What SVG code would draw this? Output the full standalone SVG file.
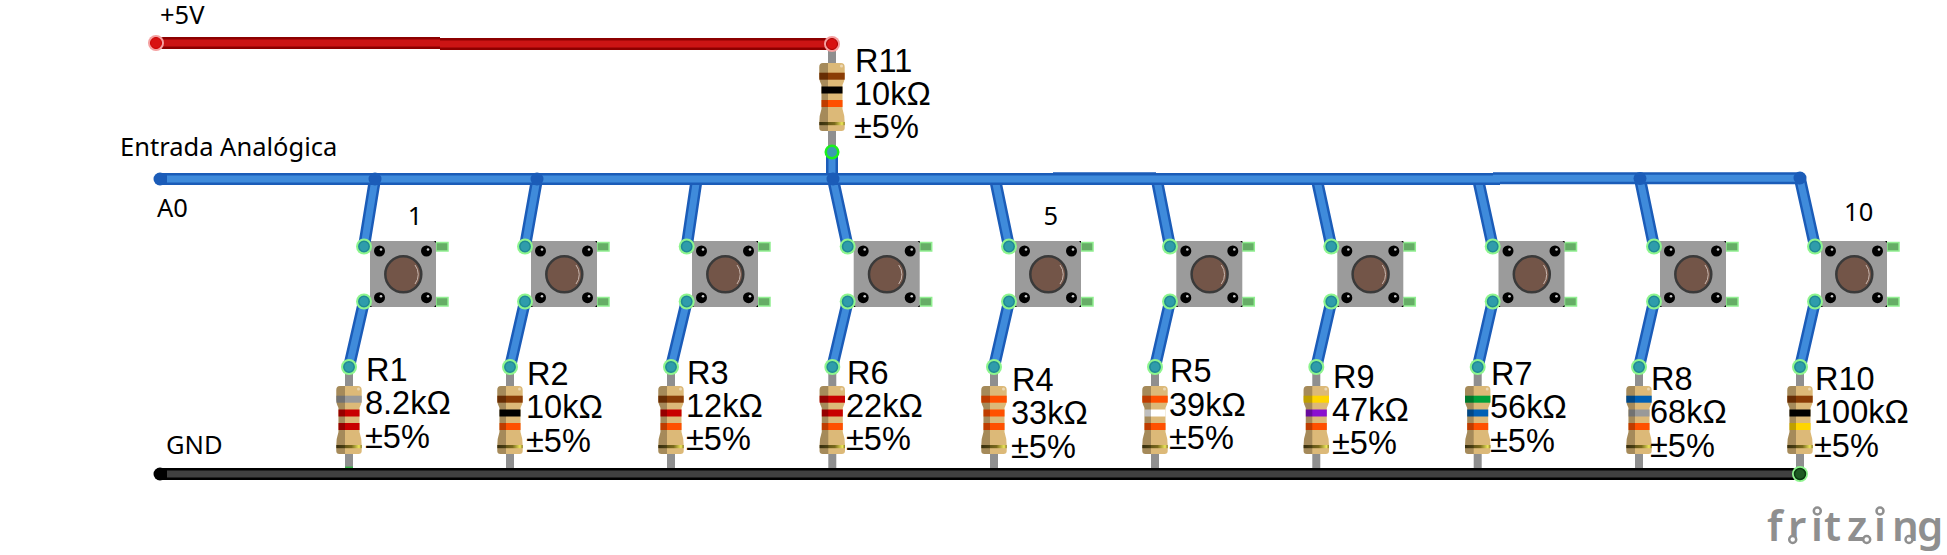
<svg xmlns="http://www.w3.org/2000/svg" width="1947" height="555" viewBox="0 0 1947 555">
<style>
.lead{stroke:#8f8f8f;stroke-width:8;fill:none}
.bo{stroke:#1b5cb8;stroke-width:12;fill:none}
.bi{stroke:#3f8bdb;stroke-width:7;fill:none}
.ro{stroke:#8c0000;stroke-width:12;fill:none}
.ri{stroke:#cb1414;stroke-width:7;fill:none}
.ko{stroke:#000;stroke-width:12;fill:none}
.ki{stroke:#404040;stroke-width:7;fill:none}
.lab{font-family:"Liberation Sans",Arial,sans-serif;font-size:32.5px;fill:#000}
.note{font-family:"Noto Sans","Open Sans",sans-serif;font-size:25.5px;fill:#000}
.gray{fill:#999}.red{fill:#c80000}.brown{fill:#8a3d06}.black{fill:#000}.orange{fill:#ff5000}.white{fill:#fff}
.yellow{fill:#ffd500}.purple{fill:#8a10d0}.green{fill:#00a13b}.blue{fill:#0060b5}
.jun{fill:#1b5cb8}
.halo{fill:#8ef58e}
.tip{fill:#2f9cab;stroke:#1f8a94;stroke-width:1.5}
.lg{fill:#fff;stroke:#8f8f8f;stroke-width:2.5}
</style>
<defs>
<linearGradient id="gold"><stop offset="0" stop-color="#4a3e14"/><stop offset=".6" stop-color="#7a6a1c"/><stop offset=".9" stop-color="#ece65a"/><stop offset="1" stop-color="#8a7a20"/></linearGradient>
<path id="rbody" fill="#dcb978" d="M-9,0H9Q12.7,0 12.7,4V14Q12.7,18 10.5,22V46Q12.7,52 12.7,60V65Q12.7,68 9.5,68H-9.5Q-12.7,68 -12.7,65V60Q-12.7,52 -10.5,46V22Q-12.7,18 -12.7,14V4Q-12.7,0 -9,0Z"/>
<rect id="b1" x="-12.7" y="9.7" width="25.4" height="7"/>
<rect id="b2" x="-10.5" y="23.5" width="21" height="7"/>
<rect id="b3" x="-10.5" y="37" width="21" height="7"/>
<g id="rshade">
<rect x="-12.7" y="59" width="25.4" height="3.2" fill="url(#gold)"/>
<path fill="#000" fill-opacity=".25" d="M-9,0H-4V68H-9.5Q-12.7,68 -12.7,65V60Q-12.7,52 -10.5,46V22Q-12.7,18 -12.7,14V4Q-12.7,0 -9,0Z"/>
<circle cx="9.5" cy="3" r="1.5" fill="#fff" fill-opacity=".45"/>
</g>
<g id="sw">
<rect x="66" y="1.5" width="12" height="8.5" fill="#66ad66" stroke="#90ee90" stroke-width="1.5"/>
<rect x="66" y="56.5" width="12" height="8.5" fill="#66ad66" stroke="#90ee90" stroke-width="1.5"/>
<rect width="66" height="66" fill="#9b9b9b"/>
<path d="M64,0h2v2zM0,66v-2l2,2zM66,66h-2l2,-2z" fill="#000"/>
<circle cx="9.5" cy="10" r="5.5" fill="#000"/><circle cx="56.5" cy="10" r="5.5" fill="#000"/>
<circle cx="9.5" cy="56.7" r="5.5" fill="#000"/><circle cx="56.5" cy="56.7" r="5.5" fill="#000"/>
<circle cx="11" cy="8.5" r="1.3" fill="#ccc"/><circle cx="58" cy="8.5" r="1.3" fill="#ccc"/>
<circle cx="11" cy="55.2" r="1.3" fill="#ccc"/><circle cx="58" cy="55.2" r="1.3" fill="#ccc"/>
<circle cx="33.3" cy="33.3" r="18" fill="#735548" stroke="#3a3a3a" stroke-width="2.5"/>
<path d="M45,24A15.5,15.5 0 0 1 45,43" fill="none" stroke="#c9b8b0" stroke-width="1"/>
</g>
<g id="tp"><circle r="8" class="halo"/><circle r="5.2" class="tip"/></g>
</defs>
<rect width="1947" height="555" fill="#fff"/>

<g id="R1" transform="translate(349,386)"><path class="lead" d="M0,-19V82"/><rect x="-4" y="80.5" width="8" height="1.5" fill="#3cb34a"/><use href="#rbody"/><use href="#b1" class="gray"/><use href="#b2" class="red"/><use href="#b3" class="red"/><use href="#rshade"/></g>
<g id="R2" transform="translate(510,386)"><path class="lead" d="M0,-19V82"/><use href="#rbody"/><use href="#b1" class="brown"/><use href="#b2" class="black"/><use href="#b3" class="orange"/><use href="#rshade"/></g>
<g id="R3" transform="translate(671,386)"><path class="lead" d="M0,-19V82"/><use href="#rbody"/><use href="#b1" class="brown"/><use href="#b2" class="red"/><use href="#b3" class="orange"/><use href="#rshade"/></g>
<g id="R6" transform="translate(832.3,386)"><path class="lead" d="M0,-19V82"/><use href="#rbody"/><use href="#b1" class="red"/><use href="#b2" class="red"/><use href="#b3" class="orange"/><use href="#rshade"/></g>
<g id="R4" transform="translate(994,386)"><path class="lead" d="M0,-19V82"/><use href="#rbody"/><use href="#b1" class="orange"/><use href="#b2" class="orange"/><use href="#b3" class="orange"/><use href="#rshade"/></g>
<g id="R5" transform="translate(1155,386)"><path class="lead" d="M0,-19V82"/><use href="#rbody"/><use href="#b1" class="orange"/><use href="#b2" class="white"/><use href="#b3" class="orange"/><use href="#rshade"/></g>
<g id="R9" transform="translate(1316.3,386)"><path class="lead" d="M0,-19V82"/><use href="#rbody"/><use href="#b1" class="yellow"/><use href="#b2" class="purple"/><use href="#b3" class="orange"/><use href="#rshade"/></g>
<g id="R7" transform="translate(1477.7,386)"><path class="lead" d="M0,-19V82"/><use href="#rbody"/><use href="#b1" class="green"/><use href="#b2" class="blue"/><use href="#b3" class="orange"/><use href="#rshade"/></g>
<g id="R8" transform="translate(1639,386)"><path class="lead" d="M0,-19V82"/><use href="#rbody"/><use href="#b1" class="blue"/><use href="#b2" class="gray"/><use href="#b3" class="orange"/><use href="#rshade"/></g>
<g id="R10" transform="translate(1800,386)"><path class="lead" d="M0,-19V82"/><use href="#rbody"/><use href="#b1" class="brown"/><use href="#b2" class="black"/><use href="#b3" class="yellow"/><use href="#rshade"/></g>
<g id="R11" transform="translate(832,63)"><path class="lead" d="M0,-19V89"/><use href="#rbody"/><use href="#b1" class="brown"/><use href="#b2" class="black"/><use href="#b3" class="orange"/><use href="#rshade"/></g>

<g id="S1"><use href="#sw" x="370" y="241"/></g>
<g id="S2"><use href="#sw" x="531" y="241"/></g>
<g id="S3"><use href="#sw" x="692" y="241"/></g>
<g id="S4"><use href="#sw" x="853.7" y="241"/></g>
<g id="S5"><use href="#sw" x="1015" y="241"/></g>
<g id="S6"><use href="#sw" x="1176.3" y="241"/></g>
<g id="S7"><use href="#sw" x="1337.3" y="241"/></g>
<g id="S8"><use href="#sw" x="1498.5" y="241"/></g>
<g id="S9"><use href="#sw" x="1660" y="241"/></g>
<g id="S10"><use href="#sw" x="1821" y="241"/></g>

<g id="connectors">
<path class="bo" d="M375,179L364,246.5M537,179L525,246.5M696.7,179L686.7,246.5M833,179L847.7,246.5M995,179L1009,246.5M1156.7,179L1170,246.5M1316.7,179L1331.3,246.5M1478,179L1492.7,246.5M1640,179L1654,246.5M1800,179L1815,246.5"/>
<path class="bi" d="M375,179L364,246.5M537,179L525,246.5M696.7,179L686.7,246.5M833,179L847.7,246.5M995,179L1009,246.5M1156.7,179L1170,246.5M1316.7,179L1331.3,246.5M1478,179L1492.7,246.5M1640,179L1654,246.5M1800,179L1815,246.5"/>
<path class="bo" d="M364,301.5L349,367M525,301.5L510,367M686.7,301.5L671,367M847.7,301.5L832.3,367M1009,301.5L994,367M1170,301.5L1155,367M1331.3,301.5L1316.3,367M1492.7,301.5L1477.7,367M1654,301.5L1639,367M1815,301.5L1800,367"/>
<path class="bi" d="M364,301.5L349,367M525,301.5L510,367M686.7,301.5L671,367M847.7,301.5L832.3,367M1009,301.5L994,367M1170,301.5L1155,367M1331.3,301.5L1316.3,367M1492.7,301.5L1477.7,367M1654,301.5L1639,367M1815,301.5L1800,367"/>
<path class="bo" d="M832,152V179"/><path class="bi" d="M832,152V179"/>
<path class="bo" d="M160,179H1500M1053,178.3H1156M1493,178.2H1800"/>
<path class="bi" d="M167,179H1500M1493,178.2H1800"/>
<circle cx="160" cy="179" r="6.5" class="jun"/>
<circle cx="375" cy="179" r="6.5" class="jun"/><circle cx="537" cy="179" r="6.5" class="jun"/><circle cx="833" cy="179" r="6.5" class="jun"/><circle cx="1640" cy="178.5" r="6.5" class="jun"/><circle cx="1800" cy="178" r="6.5" class="jun"/>
<path class="ro" d="M156,43H440M440,44H832"/><path class="ri" d="M156,43H440M440,44H832"/>
<path class="ko" d="M160,474H1800"/><path class="ki" d="M167,474H1800"/>
<circle cx="160" cy="474" r="6.5" fill="#000"/>
<circle cx="156" cy="43" r="8" fill="#f5a0a0"/><circle cx="156" cy="43" r="5.5" fill="#d81212" stroke="#c00" stroke-width="1"/>
<circle cx="832" cy="44" r="8" fill="#f5a0a0"/><circle cx="832" cy="44" r="5.5" fill="#d81212" stroke="#a00" stroke-width="1"/>
<circle cx="832" cy="152" r="7.5" fill="#1bf01b"/><circle cx="832" cy="152" r="5" fill="#3a9bb0"/>
<circle cx="1800" cy="474" r="8" class="halo"/><circle cx="1800" cy="474" r="5.5" fill="#1d5a22" stroke="#0a3a10" stroke-width="1.5"/>
<use href="#tp" x="364" y="246.5"/><use href="#tp" x="525" y="246.5"/><use href="#tp" x="686.7" y="246.5"/><use href="#tp" x="847.7" y="246.5"/><use href="#tp" x="1009" y="246.5"/><use href="#tp" x="1170" y="246.5"/><use href="#tp" x="1331.3" y="246.5"/><use href="#tp" x="1492.7" y="246.5"/><use href="#tp" x="1654" y="246.5"/><use href="#tp" x="1815" y="246.5"/>
<use href="#tp" x="364" y="301.5"/><use href="#tp" x="525" y="301.5"/><use href="#tp" x="686.7" y="301.5"/><use href="#tp" x="847.7" y="301.5"/><use href="#tp" x="1009" y="301.5"/><use href="#tp" x="1170" y="301.5"/><use href="#tp" x="1331.3" y="301.5"/><use href="#tp" x="1492.7" y="301.5"/><use href="#tp" x="1654" y="301.5"/><use href="#tp" x="1815" y="301.5"/>
<use href="#tp" x="349" y="367"/><use href="#tp" x="510" y="367"/><use href="#tp" x="671" y="367"/><use href="#tp" x="832.3" y="367"/><use href="#tp" x="994" y="367"/><use href="#tp" x="1155" y="367"/><use href="#tp" x="1316.3" y="367"/><use href="#tp" x="1477.7" y="367"/><use href="#tp" x="1639" y="367"/><use href="#tp" x="1800" y="367"/>
</g>

<g id="labels">
<text class="lab" x="366" y="381">R1</text><text class="lab" x="365" y="414">8.2kΩ</text><text class="lab" x="365" y="447.5">±5%</text>
<text class="lab" x="527" y="385">R2</text><text class="lab" x="526" y="418">10kΩ</text><text class="lab" x="526" y="451.7">±5%</text>
<text class="lab" x="687" y="384.3">R3</text><text class="lab" x="686" y="417">12kΩ</text><text class="lab" x="686" y="450">±5%</text>
<text class="lab" x="847" y="384.3">R6</text><text class="lab" x="846" y="417">22kΩ</text><text class="lab" x="846" y="450">±5%</text>
<text class="lab" x="1012" y="391">R4</text><text class="lab" x="1011" y="424.3">33kΩ</text><text class="lab" x="1011" y="457.7">±5%</text>
<text class="lab" x="1170" y="382.3">R5</text><text class="lab" x="1169" y="415.7">39kΩ</text><text class="lab" x="1169" y="449">±5%</text>
<text class="lab" x="1333" y="387.7">R9</text><text class="lab" x="1332" y="421">47kΩ</text><text class="lab" x="1332" y="454">±5%</text>
<text class="lab" x="1491" y="385">R7</text><text class="lab" x="1490" y="418">56kΩ</text><text class="lab" x="1490" y="451.7">±5%</text>
<text class="lab" x="1651" y="390">R8</text><text class="lab" x="1650" y="423">68kΩ</text><text class="lab" x="1650" y="456.7">±5%</text>
<text class="lab" x="1815" y="390">R10</text><text class="lab" x="1814" y="423">100kΩ</text><text class="lab" x="1814" y="457">±5%</text>
<text class="lab" x="855" y="72">R11</text><text class="lab" x="854" y="105.3">10kΩ</text><text class="lab" x="854" y="138.3">±5%</text>
<text class="note" x="160" y="24">+5V</text>
<text class="note" x="120" y="155.5">Entrada Analógica</text>
<text class="note" x="157" y="216.7">A0</text>
<text class="note" x="166" y="454">GND</text>
<text class="note" x="415" y="225" text-anchor="middle">1</text>
<text class="note" x="1050.7" y="225" text-anchor="middle">5</text>
<text class="note" x="1858.7" y="220.7" text-anchor="middle">10</text>
</g>
<g id="logo">
<text x="1767 1788 1811 1824 1847 1874 1892 1917" y="540.5" font-family="'Noto Sans',sans-serif" font-weight="600" font-size="42" fill="#8f8f8f">fritzing</text>
<circle class="lg" cx="1817.3" cy="511" r="3.5"/>
<circle class="lg" cx="1880" cy="511" r="3.5"/>
<circle class="lg" cx="1792.7" cy="539.5" r="3.5"/>
<circle class="lg" cx="1866.7" cy="539.5" r="3.5"/>
<circle class="lg" cx="1909" cy="539.5" r="3.5"/>
</g>
</svg>
